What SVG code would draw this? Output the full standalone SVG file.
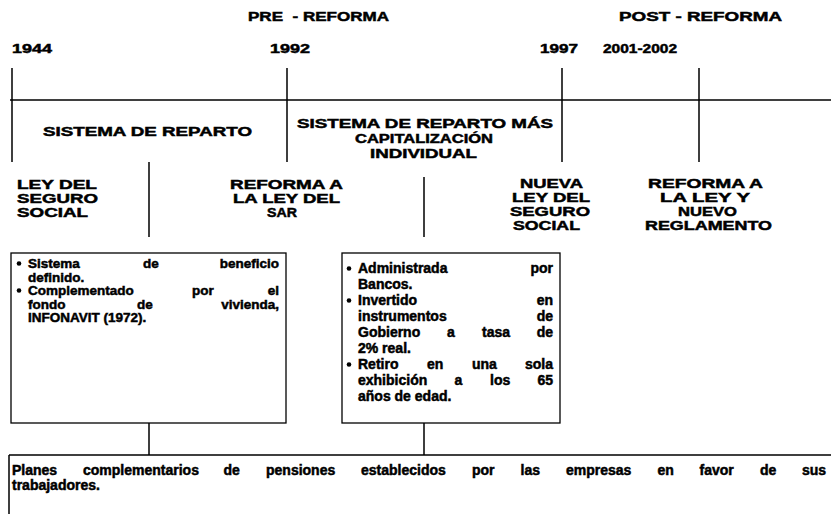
<svg xmlns="http://www.w3.org/2000/svg" width="831" height="514" viewBox="0 0 831 514">
<style>
text{font-family:"Liberation Sans",Arial,sans-serif;font-weight:bold;fill:#000;stroke:#000;stroke-width:0.5}
.h{font-size:13.5px}
.b{font-size:14px}
.c{font-size:13.5px}
.m{text-anchor:middle}
.e{text-anchor:end}
.ln{stroke:#000;stroke-width:1.5;fill:none}
.bx{stroke:#000;stroke-width:1.3;fill:#fff}
</style>
<rect width="831" height="514" fill="#fff"/>
<g id="headers">
<text class="h" x="248" y="21" textLength="141" lengthAdjust="spacingAndGlyphs" style="white-space:pre">PRE  - REFORMA</text>
<text class="h" x="619" y="21" textLength="163" lengthAdjust="spacingAndGlyphs">POST - REFORMA</text>
<text class="h" x="12" y="53" textLength="40" lengthAdjust="spacingAndGlyphs">1944</text>
<text class="h" x="270" y="53" textLength="40" lengthAdjust="spacingAndGlyphs">1992</text>
<text class="h" x="540" y="53" textLength="38" lengthAdjust="spacingAndGlyphs">1997</text>
<text class="h" x="603" y="53" textLength="74" lengthAdjust="spacingAndGlyphs">2001-2002</text>
</g>
<g id="connectors">
<path class="ln" d="M10 100H831M12 68V162M287 68V162M562 68V162M699 68V162M149 162V237M424 177V237M149 423V455M424 423V455"/>
</g>
<g id="periodo1">
<text class="h" x="43" y="136" textLength="209" lengthAdjust="spacingAndGlyphs">SISTEMA DE REPARTO</text>
</g>
<g id="periodo2">
<text class="h" x="297" y="128" textLength="256" lengthAdjust="spacingAndGlyphs">SISTEMA DE REPARTO MÁS</text>
<text class="h" x="355" y="143" textLength="138" lengthAdjust="spacingAndGlyphs">CAPITALIZACIÓN</text>
<text class="h" x="370" y="158" textLength="107" lengthAdjust="spacingAndGlyphs">INDIVIDUAL</text>
</g>
<g id="ley1944">
<text class="h" x="17" y="189" textLength="80" lengthAdjust="spacingAndGlyphs">LEY DEL</text>
<text class="h" x="17" y="203" textLength="81" lengthAdjust="spacingAndGlyphs">SEGURO</text>
<text class="h" x="17" y="217" textLength="71" lengthAdjust="spacingAndGlyphs">SOCIAL</text>
</g>
<g id="sar1992">
<text class="h" x="230" y="189" textLength="113" lengthAdjust="spacingAndGlyphs">REFORMA A</text>
<text class="h" x="233" y="203" textLength="107" lengthAdjust="spacingAndGlyphs">LA LEY DEL</text>
<text class="h" x="267" y="217" textLength="30" lengthAdjust="spacingAndGlyphs">SAR</text>
</g>
<g id="ley1997">
<text class="h" x="520" y="188" textLength="63" lengthAdjust="spacingAndGlyphs">NUEVA</text>
<text class="h" x="512" y="202" textLength="78" lengthAdjust="spacingAndGlyphs">LEY DEL</text>
<text class="h" x="510" y="216" textLength="80" lengthAdjust="spacingAndGlyphs">SEGURO</text>
<text class="h" x="513" y="230" textLength="67" lengthAdjust="spacingAndGlyphs">SOCIAL</text>
</g>
<g id="reforma2001">
<text class="h" x="648" y="188" textLength="115" lengthAdjust="spacingAndGlyphs">REFORMA A</text>
<text class="h" x="660" y="202" textLength="90" lengthAdjust="spacingAndGlyphs">LA LEY Y</text>
<text class="h" x="678" y="216" textLength="59" lengthAdjust="spacingAndGlyphs">NUEVO</text>
<text class="h" x="645" y="230" textLength="127" lengthAdjust="spacingAndGlyphs">REGLAMENTO</text>
</g>
<g id="caja1">
<rect class="bx" x="11" y="253" width="275" height="170"/>
<circle cx="19" cy="263.5" r="2.3"/>
<circle cx="19" cy="290.5" r="2.3"/>
<text class="c" y="268"><tspan x="28">Sistema</tspan><tspan x="143">de</tspan><tspan x="279" class="e">beneficio</tspan></text>
<text class="c" x="28" y="281.5">definido.</text>
<text class="c" y="295"><tspan x="28">Complementado</tspan><tspan x="192">por</tspan><tspan x="279" class="e">el</tspan></text>
<text class="c" y="308.5"><tspan x="28">fondo</tspan><tspan x="137">de</tspan><tspan x="279" class="e">vivienda,</tspan></text>
<text class="c" x="28" y="322">INFONAVIT (1972).</text>
</g>
<g id="caja2">
<rect class="bx" x="342" y="253" width="218" height="170"/>
<circle cx="349" cy="268.5" r="2.3"/>
<circle cx="349" cy="300.5" r="2.3"/>
<circle cx="349" cy="364.5" r="2.3"/>
<text class="b" y="273"><tspan x="358">Administrada</tspan><tspan x="553" class="e">por</tspan></text>
<text class="b" x="358" y="289">Bancos.</text>
<text class="b" y="305"><tspan x="358">Invertido</tspan><tspan x="553" class="e">en</tspan></text>
<text class="b" y="321"><tspan x="358">instrumentos</tspan><tspan x="553" class="e">de</tspan></text>
<text class="b" y="337"><tspan x="358">Gobierno</tspan><tspan x="447">a</tspan><tspan x="482">tasa</tspan><tspan x="553" class="e">de</tspan></text>
<text class="b" x="358" y="353">2% real.</text>
<text class="b" y="369"><tspan x="358">Retiro</tspan><tspan x="427">en</tspan><tspan x="472">una</tspan><tspan x="553" class="e">sola</tspan></text>
<text class="b" y="385"><tspan x="358">exhibición</tspan><tspan x="454.5">a</tspan><tspan x="490">los</tspan><tspan x="553" class="e">65</tspan></text>
<text class="b" x="358" y="401">años de edad.</text>
</g>
<g id="planes">
<path class="ln" d="M9 455H831M9 455V514"/>
<text class="b" y="475"><tspan x="12">Planes</tspan><tspan x="83">complementarios</tspan><tspan x="223.5">de</tspan><tspan x="266">pensiones</tspan><tspan x="361">establecidos</tspan><tspan x="472">por</tspan><tspan x="520.5">las</tspan><tspan x="566">empresas</tspan><tspan x="657.5">en</tspan><tspan x="699.5">favor</tspan><tspan x="760">de</tspan><tspan x="826" class="e">sus</tspan></text>
<text class="b" x="12" y="490">trabajadores.</text>
</g>
</svg>
